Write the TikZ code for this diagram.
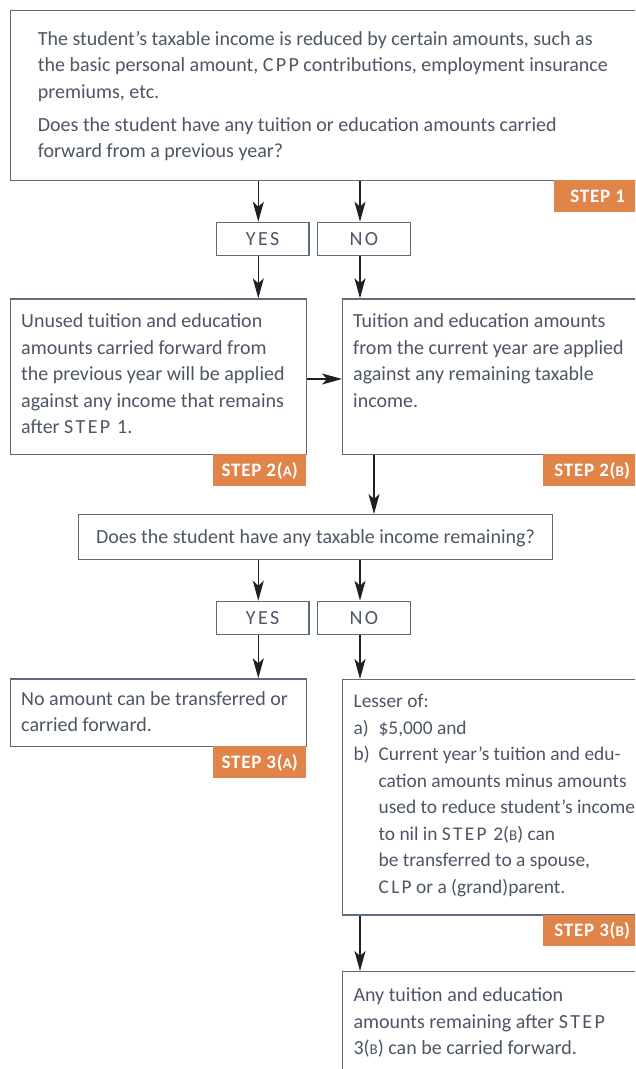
\documentclass[tikz,border=0pt]{standalone}
\usepackage{fontspec}
\setmainfont{Carlito}
\usetikzlibrary{arrows.meta}
\definecolor{txt}{HTML}{4D5566}
\definecolor{brd}{HTML}{5E6B7C}
\definecolor{org}{HTML}{E0844A}
\definecolor{arr}{HTML}{231F20}
\newcommand\sca[1]{{\fontsize{15pt}{15pt}\selectfont #1}}
\newcommand\trk[1]{{\addfontfeature{LetterSpace=12}#1}}
\newcommand\fst{\rule{0pt}{16pt}}
\tikzset{
  box/.style={draw=brd, line width=1.2pt, fill=white, inner sep=0pt, anchor=north west},
  lbl/.style={box, text=txt, font=\fontsize{20pt}{24pt}\selectfont, text height=12.8pt, text depth=0pt},
  body/.style={anchor=north west, inner sep=0pt, text=txt, align=left, font=\fontsize{20pt}{26.5pt}\selectfont},
  badge/.style={fill=org, text=white, inner sep=0pt, anchor=north west, font=\bfseries\fontsize{19pt}{19pt}\selectfont\addfontfeature{LetterSpace=4}, text height=12.4pt, text depth=0pt},
  arrow/.style={draw=arr, line width=1.2pt, -{Stealth[length=20pt,width=11pt,inset=5pt]}}
}
\begin{document}
\begin{tikzpicture}[x=1pt,y=-1pt]
\useasboundingbox (0,0) rectangle (635,1069);
\clip (0,0) rectangle (635,1069);
\fill[white] (0,0) rectangle (635,1069);
% guide coordinates
\coordinate (cL) at (258.3,0);
\coordinate (cR) at (360,0);
\coordinate (cM) at (374,0);
\coordinate (cH) at (0,379);
% boxes
\node[box, minimum width=631pt, minimum height=170pt] (top) at (9.5,10) {};
\node[lbl, minimum width=92.5pt, minimum height=33.3pt] (yes1) at (215.8,221.7) {\trk{YES}};
\node[lbl, minimum width=93pt, minimum height=33.3pt] (no1) at (316.8,221.7) {\trk{NO}};
\node[box, minimum width=295.8pt, minimum height=155.7pt] (s2a) at (10,298.3) {};
\node[box, minimum width=300pt, minimum height=155.7pt] (s2b) at (342,298.3) {};
\node[lbl, minimum width=473.3pt, minimum height=45pt] (q) at (78.2,514) {Does the student have any taxable income remaining?};
\node[lbl, minimum width=92.5pt, minimum height=33.3pt] (yes2) at (215.8,600.7) {\trk{YES}};
\node[lbl, minimum width=93pt, minimum height=33.3pt] (no2) at (316.8,600.7) {\trk{NO}};
\node[box, minimum width=295.8pt, minimum height=67.7pt] (s3a) at (10,678.3) {};
\node[box, minimum width=300pt, minimum height=235.3pt] (s3b) at (342,679) {};
\node[box, minimum width=300pt, minimum height=200pt] (fin) at (342,971) {};
% badges
\node[badge, minimum width=87pt, minimum height=32pt] (b1) at (554,180) {STEP 1};
\node[badge, minimum width=93pt, minimum height=32pt] (b2a) at (213,454) {STEP 2(\sca{A})};
\node[badge, minimum width=98pt, minimum height=32pt] (b2b) at (543,454) {STEP 2(\sca{B})};
\node[badge, minimum width=93pt, minimum height=31.3pt] (b3a) at (213,746) {STEP 3(\sca{A})};
\node[badge, minimum width=98pt, minimum height=31.7pt] (b3b) at (543,914.3) {STEP 3(\sca{B})};
% texts
\node[body] (t1) at (37.7,29) {\fst The student’s taxable income is reduced by certain amounts, such as\\
the basic personal amount, \trk{CPP} contributions, employment insurance\\
premiums, etc.\\[6.3pt]
Does the student have any tuition or education amounts carried\\
forward from a previous year?};
\node[body] (t2a) at (21,311.3) {\fst Unused tuition and education\\
amounts carried forward from\\
the previous year will be applied\\
against any income that remains\\
after \trk{STEP 1}.};
\node[body] (t2b) at (353,311.3) {\fst Tuition and education amounts\\
from the current year are applied\\
against any remaining taxable\\
income.};
\node[body] (t3a) at (21,689) {\fst No amount can be transferred or\\
carried forward.};
\node[body, font=\fontsize{19.4pt}{26.5pt}\selectfont] (t3b) at (353.4,691.7) {\fst Lesser of:\\
\makebox[25pt][l]{a)}\$5,000 and\\
\makebox[25pt][l]{b)}Current year’s tuition and edu-\\
\hspace*{25pt}cation amounts minus amounts\\
\hspace*{25pt}used to reduce student’s income\\
\hspace*{25pt}to nil in \trk{STEP 2}(\sca{B}) can\\
\hspace*{25pt}be transferred to a spouse,\\
\hspace*{25pt}\trk{CLP} or a (grand)parent.};
\node[body] (tf) at (353.3,985.7) {\fst Any tuition and education\\
amounts remaining after \trk{STEP}\\
3(\sca{B}) can be carried forward.};
% connectors
\draw[arrow] (top.south -| cL) -- (yes1.north -| cL);
\draw[arrow] (top.south -| cR) -- (no1.north -| cR);
\draw[arrow] (yes1.south -| cL) -- (s2a.north -| cL);
\draw[arrow] (no1.south -| cR) -- (s2b.north -| cR);
\draw[arrow] (s2a.east |- cH) -- (s2b.west |- cH);
\draw[arrow] (s2b.south -| cM) -- (q.north -| cM);
\draw[arrow] (q.south -| cL) -- (yes2.north -| cL);
\draw[arrow] (q.south -| cR) -- (no2.north -| cR);
\draw[arrow] (yes2.south -| cL) -- (s3a.north -| cL);
\draw[arrow] (no2.south -| cR) -- (s3b.north -| cR);
\draw[arrow] (s3b.south -| cR) -- (fin.north -| cR);
\end{tikzpicture}
\end{document}
